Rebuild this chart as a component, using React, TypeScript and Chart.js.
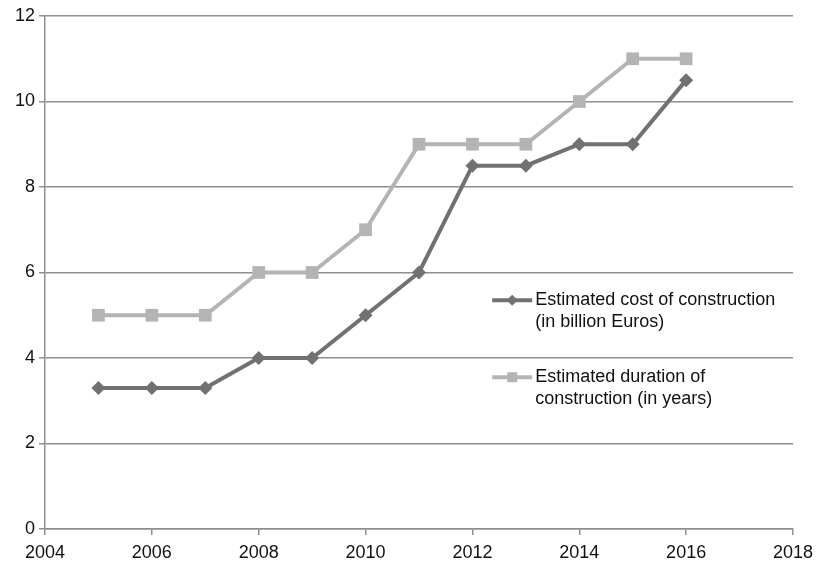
import React, { useEffect, useRef } from "react";
import { Chart, registerables } from "chart.js";

Chart.register(...registerables);

const years = [2005, 2006, 2007, 2008, 2009, 2010, 2011, 2012, 2013, 2014, 2015, 2016];
const costBillionEuros = [3.3, 3.3, 3.3, 4, 4, 5, 6, 8.5, 8.5, 9, 9, 10.5];
const durationYears = [5, 5, 5, 6, 6, 7, 9, 9, 9, 10, 11, 11];
const costLabel = ["Estimated cost of construction", "(in billion Euros)"];
const durationLabel = ["Estimated duration of", "construction (in years)"];

const FONT = "'Liberation Sans', Arial, Helvetica, sans-serif";
const COST_COLOR = "#717171";
const DURATION_COLOR = "#b4b4b4";
const GRID_COLOR = "#8e8e8e";

// Draws the legend inside the plot area, with multi-line labels.
const insideLegend = {
  id: "insideLegend",
  afterDraw(chart: any) {
    const ctx = chart.ctx as CanvasRenderingContext2D;
    const x0 = chart.scales.x.getPixelForValue(2012.37);
    const entries = chart.data.datasets.map((ds: any, i: number) => ({
      ds,
      y: chart.scales.y.getPixelForValue(i === 0 ? 5.35 : 3.55),
    }));
    ctx.save();
    ctx.font = `18px ${FONT}`;
    ctx.textBaseline = "middle";
    for (const { ds, y } of entries) {
      ctx.strokeStyle = ds.borderColor;
      ctx.lineWidth = 4;
      ctx.beginPath();
      ctx.moveTo(x0, y);
      ctx.lineTo(x0 + 40, y);
      ctx.stroke();
      ctx.fillStyle = ds.backgroundColor;
      const cx = x0 + 20;
      if (ds.pointStyle === "rectRot") {
        ctx.beginPath();
        ctx.moveTo(cx, y - 5.5);
        ctx.lineTo(cx + 5.5, y);
        ctx.lineTo(cx, y + 5.5);
        ctx.lineTo(cx - 5.5, y);
        ctx.closePath();
        ctx.fill();
      } else {
        ctx.fillRect(cx - 5, y - 5, 10, 10);
      }
      ctx.fillStyle = "#111";
      (ds.legendLines as string[]).forEach((line, k) => {
        ctx.fillText(line, x0 + 43, y + k * 22);
      });
    }
    ctx.restore();
  },
};

export default function App() {
  const canvasRef = useRef<HTMLCanvasElement | null>(null);

  useEffect(() => {
    const canvas = canvasRef.current;
    if (!canvas) return;
    const chart = new Chart(canvas, {
      type: "line",
      data: {
        datasets: [
          {
            label: costLabel.join(" "),
            legendLines: costLabel,
            data: years.map((yr, i) => ({ x: yr, y: costBillionEuros[i] })),
            borderColor: COST_COLOR,
            backgroundColor: COST_COLOR,
            borderWidth: 4,
            pointStyle: "rectRot",
            pointRadius: 7,
            pointBorderWidth: 0,
            tension: 0,
          } as any,
          {
            label: durationLabel.join(" "),
            legendLines: durationLabel,
            data: years.map((yr, i) => ({ x: yr, y: durationYears[i] })),
            borderColor: DURATION_COLOR,
            backgroundColor: DURATION_COLOR,
            borderWidth: 4,
            pointStyle: "rect",
            pointRadius: 9,
            pointBorderWidth: 0,
            tension: 0,
          } as any,
        ],
      },
      options: {
        animation: false,
        responsive: false,
        layout: { padding: { top: 16, right: 24, left: 0, bottom: 0 } },
        plugins: {
          legend: { display: false },
          tooltip: { enabled: false },
        },
        scales: {
          x: {
            type: "linear",
            min: 2004,
            max: 2018,
            afterFit: (s: any) => {
              s.height = 35;
              s.paddingRight = 0;
              s.paddingLeft = 0;
            },
            ticks: {
              stepSize: 2,
              color: "#111",
              font: { family: FONT, size: 18 },
              padding: 7,
              maxRotation: 0,
              callback: (v: any) => String(v),
            },
            grid: {
              display: true,
              drawOnChartArea: false,
              drawTicks: true,
              tickLength: 6,
              color: GRID_COLOR,
              lineWidth: 1.5,
            },
            border: { color: GRID_COLOR, width: 1.5 },
          },
          y: {
            min: 0,
            max: 12,
            afterFit: (s: any) => {
              s.width = 45;
            },
            ticks: {
              stepSize: 2,
              color: "#111",
              font: { family: FONT, size: 18 },
              padding: 4,
            },
            grid: {
              color: GRID_COLOR,
              lineWidth: 1.5,
              tickLength: 6,
            },
            border: { color: GRID_COLOR, width: 1.5 },
          },
        },
      },
      plugins: [insideLegend],
    } as any);
    return () => chart.destroy();
  }, []);

  return (
    <div style={{ position: "fixed", left: 0, top: 0, width: 817, height: 564, background: "#fff" }}>
      <canvas ref={canvasRef} width={817} height={564} style={{ width: 817, height: 564 }} />
    </div>
  );
}
